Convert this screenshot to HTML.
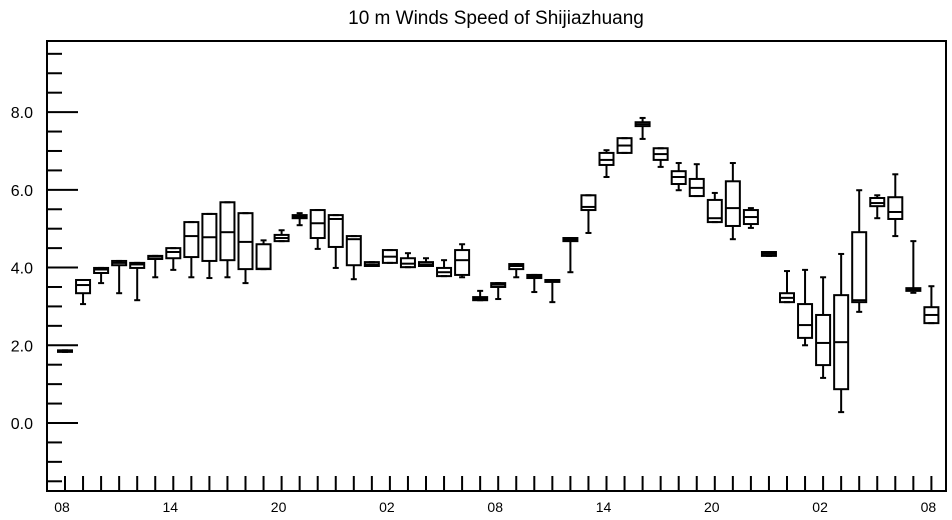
<!DOCTYPE html>
<html><head><meta charset="utf-8"><style>
body{margin:0;background:#fff}
svg{display:block;font-family:"Liberation Sans",Arial,sans-serif}
</style></head><body>
<svg id="chart" width="952" height="520" viewBox="0 0 952 520">
<text x="496" y="24" font-size="19" text-anchor="middle">10 m Winds Speed of Shijiazhuang</text>
<g id="axes"></g>
<g id="boxes"></g>
<rect x="47" y="41" width="899" height="450" fill="none" stroke="#000" stroke-width="2"/>
</svg>
<script>
const xLabels = ["08","14","20","02","08","14","20","02","08"];
const yTicks = [0,2,4,6,8];
const mins =   [1.83,3.06,3.60,3.34,3.16,3.75,3.94,3.75,3.73,3.75,3.60,3.96,4.68,5.09,4.48,3.99,3.70,4.04,4.12,4.01,4.04,3.78,3.75,3.16,3.19,3.75,3.37,3.11,3.88,4.89,6.33,6.95,7.31,6.59,5.99,5.84,5.17,4.73,5.02,4.30,3.11,2.00,1.16,0.28,2.86,5.27,4.81,3.35,2.57];
const q1s =    [1.83,3.34,3.86,4.06,3.99,4.22,4.24,4.27,4.17,4.19,3.96,3.96,4.68,5.27,4.76,4.53,4.06,4.04,4.12,4.01,4.04,3.78,3.81,3.16,3.50,3.96,3.73,3.63,4.68,5.48,6.64,6.95,7.64,6.77,6.15,5.84,5.17,5.07,5.12,4.30,3.11,2.19,1.49,0.87,3.11,5.58,5.25,3.40,2.57];
const medians =[1.85,3.55,3.95,4.12,4.08,4.28,4.40,4.81,4.78,4.91,4.66,3.97,4.76,5.31,5.14,5.25,4.73,4.08,4.28,4.10,4.08,3.88,4.19,3.20,3.56,4.04,3.77,3.65,4.72,5.56,6.77,7.14,7.69,6.92,6.33,6.05,5.27,5.53,5.30,4.35,3.22,2.52,2.06,2.08,3.16,5.66,5.43,3.43,2.78];
const q3s =    [1.87,3.68,3.99,4.17,4.12,4.30,4.50,5.17,5.38,5.68,5.40,4.60,4.84,5.35,5.48,5.35,4.81,4.14,4.45,4.24,4.14,3.99,4.45,3.24,3.60,4.09,3.81,3.68,4.76,5.86,6.95,7.33,7.74,7.07,6.48,6.28,5.74,6.22,5.48,4.40,3.34,3.06,2.78,3.29,4.91,5.79,5.81,3.47,2.98];
const maxs =   [1.87,3.68,3.99,4.17,4.12,4.30,4.50,5.17,5.38,5.68,5.40,4.70,4.96,5.40,5.48,5.35,4.81,4.14,4.45,4.37,4.24,4.19,4.60,3.40,3.60,4.09,3.81,3.68,4.76,5.86,7.02,7.33,7.85,7.07,6.69,6.66,5.92,6.69,5.53,4.40,3.91,3.94,3.75,4.35,5.99,5.86,6.40,4.68,3.52];
const NS='http://www.w3.org/2000/svg';
const yMin=-1.75, yMax=9.83, pTop=41, pBot=491, pLeft=47;
function yS(v){return pTop+(yMax-v)/(yMax-yMin)*(pBot-pTop);}
function xS(i){return 65+i*18.05;}
function mk(tag,attrs,parent){const e=document.createElementNS(NS,tag);for(const k in attrs)e.setAttribute(k,attrs[k]);parent.appendChild(e);return e;}
const axes=document.getElementById('axes');
for(let k=-3;k<=19;k++){
  const v=k*0.5;
  const major=yTicks.includes(v);
  const t=mk('line',{x1:pLeft,x2:pLeft+(major?31:15),y1:yS(v),y2:yS(v),stroke:'#000','stroke-width':2},axes);
  
  
}
yTicks.forEach(v=>{
  const t=mk('text',{x:33,y:yS(v)+6,'font-size':16,'text-anchor':'end'},axes);
  t.textContent=v.toFixed(1);
  
  
});
for(let i=0;i<mins.length;i++){
  const t=mk('line',{x1:xS(i),x2:xS(i),y1:pBot,y2:pBot-15,stroke:'#000','stroke-width':2},axes);
  
  
}
xLabels.forEach((l,k)=>{
  const t=mk('text',{x:xS(k*6)-3,y:512,'font-size':14,'text-anchor':'middle'},axes);
  t.textContent=l;
  
  
});
const g=document.getElementById('boxes');
for(let i=0;i<mins.length;i++){
  const cx=xS(i), w=14;
  const bg=mk('g',{},g);
  
  
  const st={stroke:'#000','stroke-width':2,fill:'none'};
  mk('line',Object.assign({x1:cx,x2:cx,y1:yS(maxs[i]),y2:yS(q3s[i])},st),bg);
  mk('line',Object.assign({x1:cx,x2:cx,y1:yS(q1s[i]),y2:yS(mins[i])},st),bg);
  mk('line',Object.assign({x1:cx-3,x2:cx+3,y1:yS(maxs[i]),y2:yS(maxs[i])},st),bg);
  mk('line',Object.assign({x1:cx-3,x2:cx+3,y1:yS(mins[i]),y2:yS(mins[i])},st),bg);
  mk('rect',Object.assign({x:cx-w/2,y:yS(q3s[i]),width:w,height:Math.max(1,yS(q1s[i])-yS(q3s[i]))},st),bg);
  mk('line',Object.assign({x1:cx-w/2,x2:cx+w/2,y1:yS(medians[i]),y2:yS(medians[i])},st),bg);
}
</script>
</body></html>
